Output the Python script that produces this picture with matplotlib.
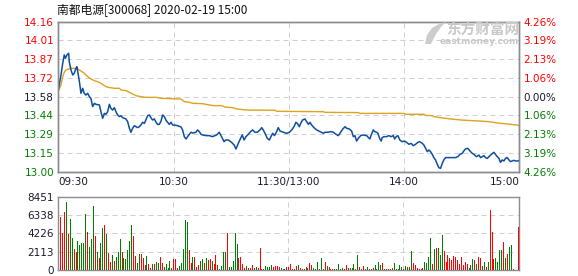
import matplotlib
matplotlib.use('Agg')
import matplotlib.pyplot as plt
from matplotlib.patches import Polygon
import numpy as np

plt.rcParams['font.family'] = ['DejaVu Sans']

# 分时价格 (分钟, 价格)
price_min = [0, 1.4, 2.3, 3.1, 3.7, 4.5, 5.4, 5.7, 6.6, 7.5, 8.3, 9.2, 9.7, 10.4, 11.0, 11.8, 12.7, 13.5,
             14.4, 15.3, 16.2, 17.0, 17.9, 18.8, 19.6, 21.4, 22.2, 23.1, 24.0, 24.8, 25.7, 26.6, 27.4,
             28.3, 29.2, 30.0, 30.9, 31.8, 32.6, 33.5, 35.2, 36.1, 37.0, 37.8, 38.7, 39.6, 40.4, 41.3,
             42.2, 43.0, 43.9, 44.8, 45.6, 46.5, 47.4, 48.2, 49.1, 50.0, 50.9, 51.7, 52.6, 53.5, 54.3,
             55.2, 56.0, 56.9, 57.8, 58.7, 59.5, 60.4, 62.1, 63.9, 64.7, 65.6, 66.5, 67.3, 68.2, 69.1,
             69.9, 71.7, 72.5, 73.4, 74.3, 75.1, 76.9, 78.6, 80.3, 82.4, 83.8, 85.0, 86.3, 87.1, 88.5,
             90.2, 91.5, 92.5, 93.7, 94.9, 95.8, 96.7, 97.7, 98.9, 100.1, 101.2, 102.4, 103.6, 105.0,
             105.9, 106.7, 107.6, 108.8, 109.9, 110.7, 111.6, 112.5, 113.7, 114.5, 115.4, 117.1, 118.9,
             120.3, 121.5, 122.7, 123.7, 124.4, 125.5, 126.2, 127.2, 128.4, 129.3, 130.2, 131.0, 131.9,
             133.1, 134.5, 136.2, 138.0, 138.8, 140.6, 141.8, 143.2, 144.6, 145.8, 147.0, 148.1, 149.3,
             150.1, 151.5, 152.7, 153.6, 154.4, 155.3, 156.2, 157.4, 158.8, 160.5, 162.2, 162.9, 164.0,
             164.7, 165.7, 166.4, 167.4, 168.1, 168.6, 169.5, 170.9, 172.1, 173.3, 174.4, 175.1, 175.9,
             176.8, 177.8, 179.0, 180.3, 181.3, 182.5, 183.7, 184.8, 186.0, 187.2, 188.2, 189.5, 190.3,
             191.2, 192.1, 192.9, 193.8, 194.7, 195.5, 196.4, 197.3, 198.1, 199.0, 199.9, 200.7, 201.6,
             203.3, 205.1, 206.8, 208.0, 209.1, 210.3, 211.1, 212.0, 213.2, 214.3, 215.5, 216.4, 217.7,
             219.0, 219.8, 220.7, 221.6, 222.4, 223.3, 224.2, 225.4, 226.8, 227.6, 228.5, 229.4, 230.2,
             231.1, 232.0, 232.8, 233.7, 234.6, 235.4, 236.3, 237.2, 238.0, 239.3, 240.0]
price_val = [13.630, 13.748, 13.838, 13.903, 13.877, 13.903, 13.916, 13.851, 13.787, 13.748, 13.761, 13.800,
             13.812, 13.748, 13.696, 13.606, 13.645, 13.606, 13.593, 13.606, 13.580, 13.567, 13.503, 13.529,
             13.521, 13.516, 13.464, 13.413, 13.451, 13.444, 13.464, 13.521, 13.490, 13.477, 13.495, 13.464,
             13.439, 13.426, 13.433, 13.418, 13.408, 13.387, 13.336, 13.305, 13.336, 13.356, 13.348, 13.341,
             13.348, 13.361, 13.382, 13.374, 13.400, 13.433, 13.439, 13.418, 13.400, 13.408, 13.382, 13.366,
             13.366, 13.392, 13.439, 13.426, 13.400, 13.382, 13.366, 13.382, 13.361, 13.361, 13.356, 13.346,
             13.323, 13.271, 13.253, 13.271, 13.289, 13.305, 13.299, 13.305, 13.323, 13.310, 13.289, 13.284,
             13.279, 13.279, 13.271, 13.284, 13.305, 13.271, 13.232, 13.245, 13.245, 13.227, 13.207, 13.176,
             13.219, 13.258, 13.284, 13.245, 13.271, 13.289, 13.310, 13.323, 13.305, 13.305, 13.323, 13.341,
             13.323, 13.297, 13.258, 13.245, 13.271, 13.297, 13.279, 13.310, 13.341, 13.315, 13.305, 13.297,
             13.305, 13.323, 13.348, 13.382, 13.374, 13.348, 13.374, 13.400, 13.408, 13.387, 13.366, 13.382,
             13.361, 13.341, 13.323, 13.310, 13.297, 13.305, 13.305, 13.310, 13.305, 13.289, 13.279, 13.305,
             13.330, 13.348, 13.336, 13.330, 13.315, 13.271, 13.279, 13.237, 13.258, 13.279, 13.284, 13.279,
             13.253, 13.284, 13.323, 13.310, 13.305, 13.297, 13.253, 13.237, 13.263, 13.271, 13.271, 13.279,
             13.271, 13.279, 13.253, 13.271, 13.279, 13.245, 13.232, 13.237, 13.227, 13.212, 13.219, 13.201,
             13.212, 13.227, 13.232, 13.219, 13.207, 13.181, 13.155, 13.168, 13.155, 13.134, 13.109, 13.091,
             13.057, 13.031, 13.026, 13.065, 13.091, 13.109, 13.109, 13.109, 13.109, 13.116, 13.134, 13.142,
             13.160, 13.176, 13.181, 13.160, 13.142, 13.134, 13.116, 13.129, 13.109, 13.116, 13.124, 13.109,
             13.103, 13.116, 13.134, 13.150, 13.134, 13.116, 13.103, 13.072, 13.091, 13.083, 13.103, 13.109,
             13.091, 13.078, 13.083, 13.088, 13.083, 13.083, 13.088]

# 均价线
avg_min = [0, 1.4, 2.3, 3.1, 4.0, 5.4, 6.6, 8.3, 10.1, 11.8, 13.5, 15.3, 17.0, 18.8, 20.5, 22.2, 24.0,
           25.7, 29.2, 31.8, 32.6, 35.2, 37.0, 38.7, 40.4, 43.0, 45.6, 50.9, 53.5, 57.8, 63.9, 65.6,
           68.2, 69.9, 75.1, 78.6, 81.0, 85.0, 86.8, 91.1, 92.8, 98.1, 112.8, 113.7, 138.0, 138.8,
           156.2, 157.0, 179.9, 180.8, 190.3, 191.2, 194.7, 195.5, 199.0, 204.2, 209.4, 219.0, 224.2,
           228.5, 233.7, 238.9, 240.0]
avg_val = [13.624, 13.671, 13.735, 13.769, 13.787, 13.794, 13.800, 13.800, 13.794, 13.779, 13.761, 13.735,
           13.717, 13.704, 13.696, 13.684, 13.665, 13.653, 13.645, 13.645, 13.632, 13.627, 13.614, 13.601,
           13.588, 13.580, 13.575, 13.575, 13.568, 13.565, 13.562, 13.542, 13.537, 13.529, 13.526, 13.516,
           13.511, 13.511, 13.500, 13.495, 13.485, 13.477, 13.475, 13.467, 13.464, 13.459, 13.457, 13.451,
           13.451, 13.444, 13.444, 13.436, 13.433, 13.426, 13.418, 13.408, 13.400, 13.392, 13.387, 13.377,
           13.369, 13.361, 13.356]

# 成交量 (手)，按上午前段、中段、下午分段
vol_am1 = [6149, 4304, 6725, 7878, 4150, 5880, 3728, 2421, 2114, 3343,
           2882, 3151, 3151, 6456, 4381, 2690, 3574, 7379, 3920, 2114,
           1422, 3151, 4881, 5188, 4150, 1998, 961, 1729, 1076, 1537,
           2114, 3574, 2114, 1422, 1268, 2306, 3343, 5188, 3920, 1614,
           807, 1845, 1845, 1422, 615, 1614, 692, 269, 692, 692,
           884, 769, 1499, 769, 384, 653, 269, 1038, 192, 1268,
           1268, 269, 500, 807, 2421, 5765, 5495, 2306, 807, 1499,
           1499, 384, 576, 1038, 1268, 807, 1383, 1153, 1268, 1038, 692]
vol_am2 = [1729, 576, 115, 500, 2075, 2075, 4304, 346, 346, 1038,
           4304, 2998, 1422, 1499, 692, 192, 500, 269, 269, 576,
           269, 346, 269, 2536, 115, 115, 500, 346, 346, 576,
           346, 500, 423, 346, 269, 115, 115, 346, 346, 692,
           115, 115, 500, 576, 192, 115, 115, 346, 269, 807,
           576, 269, 115, 922, 115, 1383, 115, 922, 500, 346,
           115, 115, 115, 115, 692, 115, 269, 115, 576, 192,
           192, 192, 692, 115, 1729, 346, 115, 500]
vol_pm = [115, 346, 115, 115, 231, 576, 115, 922, 576, 807,
          115, 115, 115, 115, 231, 807, 115, 115, 576, 346,
          115, 461, 384, 346, 2190, 807, 576, 231, 115,
          115, 231, 922, 807, 1499, 3689, 692, 2421, 2536, 2536, 1729, 4035,
          2190, 922, 1729, 1383, 1153, 1614, 1499, 1153, 692, 1499, 576, 922, 692,
          231, 576, 1268,
          1153, 692, 1499, 1383, 461, 922, 346, 922,
          6917, 4381, 1268, 1383, 922, 2306, 2306, 3228, 1383, 1845, 2652, 2882, 115,
          0, 0, 4957]
# 涨跌标记 r=红 g=绿
dir_am1 = 'rrrgrggrrg' 'ggggrgggrg' 'rggrgrrgrg' 'ggrgggggrr' 'ggrrrgrrgr' 'ggrrgggggr' 'rrgggggrrg' 'rrrggrgrrgr'
dir_am2 = 'rrggggrggg' 'ggrrrrgrrr' 'ggrrrrgggg' 'rrrrgggrrr' 'rgrgrrggrr' 'rgggrggrgr' 'rrgggrgrrr' 'gggrgrgr'
dir_pm = ('rgrgrggggr' 'rgrgrggggg' 'rggrgrrr' 'r' 'rrggggrgrggg' 'rrrrrrrrrrrrr' 'ggg'
          'rgrrggrg' 'rrrggggrgrggr' 'rrr')

volume = vol_am1 + vol_am2 + vol_pm
updown = dir_am1 + dir_am2 + dir_pm

price_ticks = [13.00, 13.145, 13.29, 13.435, 13.58, 13.725, 13.87, 14.015, 14.16]
price_labels = ['13.00', '13.15', '13.29', '13.44', '13.58', '13.72', '13.87', '14.01', '14.16']
pct_labels = ['4.26%', '3.19%', '2.13%', '1.06%', '0.00%', '1.06%', '2.13%', '3.19%', '4.26%']
vol_ticks = [0, 2113, 4226, 6338, 8451]
time_ticks = [0, 60, 120, 180, 240]
time_labels = ['09:30', '10:30', '11:30/13:00', '14:00', '15:00']

RED = '#ff0000'
GREEN = '#008000'
DARK = '#1a1a2e'
FRAME = '#8c8c8c'
GRID = '#cfcfcf'
PX = 0.72  # 1 像素对应的线宽 (pt)


def label_color(i, mid):
    if i > mid:
        return RED
    if i < mid:
        return GREEN
    return DARK


fig = plt.figure(figsize=(5.78, 2.76), dpi=100)
ax = fig.add_axes([58.3 / 578, 104.3 / 276, 461 / 578, 150 / 276])
axv = fig.add_axes([58.3 / 578, 6 / 276, 461 / 578, 73.3 / 276])

# --- 价格面板 ---
ax.plot(avg_min, avg_val, color='#dda21e', lw=1.0, zorder=3)
ax.plot(price_min, price_val, color='#0d4f9e', lw=1.1, zorder=4)
ax.set_xlim(0, 240)
ax.set_ylim(13.00, 14.16)
ax.set_yticks(price_ticks)
ax.set_yticklabels(price_labels, fontsize=7.5)
for i, t in enumerate(ax.get_yticklabels()):
    t.set_color(label_color(i, 4))
ax.set_xticks(time_ticks)
ax.set_xticklabels(time_labels, fontsize=7.5, color=DARK)
xl = ax.get_xticklabels()
xl[0].set_ha('left')
xl[-1].set_ha('right')
ax.tick_params(length=0, pad=3)
ax.tick_params(axis='x', pad=4)

axr = ax.twinx()
axr.set_ylim(13.00, 14.16)
axr.set_yticks(price_ticks)
axr.set_yticklabels(pct_labels, fontsize=7.5)
for i, t in enumerate(axr.get_yticklabels()):
    t.set_color(label_color(i, 4))
axr.tick_params(length=0, pad=3)

for y in price_ticks[1:-1]:
    ax.axhline(y, color=GRID, lw=PX, ls=(0, (5, 4)), zorder=1)
for x in time_ticks[1:-1]:
    ax.axvline(x, color=GRID, lw=PX, ls=(0, (5, 4)), zorder=1)

# --- 成交量面板 ---
vol_x = np.arange(1, len(volume) + 1)
vol_colors = [RED if c == 'r' else GREEN for c in updown]
axv.vlines(vol_x, 0, volume, colors=vol_colors, lw=PX, antialiased=False, zorder=3)
axv.set_xlim(0, 240.5)
axv.set_ylim(0, 8451)
axv.set_yticks(vol_ticks)
axv.set_yticklabels([str(v) for v in vol_ticks], fontsize=7.5, color=DARK)
axv.set_xticks([])
axv.tick_params(length=0, pad=3)
for y in vol_ticks[1:-1]:
    axv.axhline(y, color=GRID, lw=PX, ls=(0, (5, 4)), zorder=1)
for x in time_ticks[1:-1]:
    axv.axvline(x, color=GRID, lw=PX, ls=(0, (5, 4)), zorder=1)

for a in (ax, axr, axv):
    for s in a.spines.values():
        s.set_color(FRAME)
        s.set_linewidth(1.0)

# 标题
fig.text(57 / 578, 1 - 9.5 / 276, '南都电源[300068] 2020-02-19 15:00', fontsize=8.5,
         family=['Noto Sans CJK SC', 'DejaVu Sans'], color='#111111', va='center', ha='left')

# 水印 (logo 近似 + 文字)
logo = [(425, 44), (427, 35), (432, 28), (439, 24), (446, 22), (441, 27), (436, 34), (431, 44)]
fig.add_artist(Polygon([(x, 276 - y) for x, y in logo], closed=True, transform=None,
                       facecolor='#cdcdcd', edgecolor='none'))
fig.text(519 / 578, 1 - 30 / 276, '东方财富网', fontsize=10.5, weight='bold',
         family=['Noto Sans CJK SC', 'DejaVu Sans'], color='#c8c8c8', va='center', ha='right')
fig.text(519 / 578, 1 - 42 / 276, 'eastmoney.com', fontsize=6.5, weight='bold',
         color='#c8c8c8', va='center', ha='right')

fig.savefig('out.png', dpi=100)
